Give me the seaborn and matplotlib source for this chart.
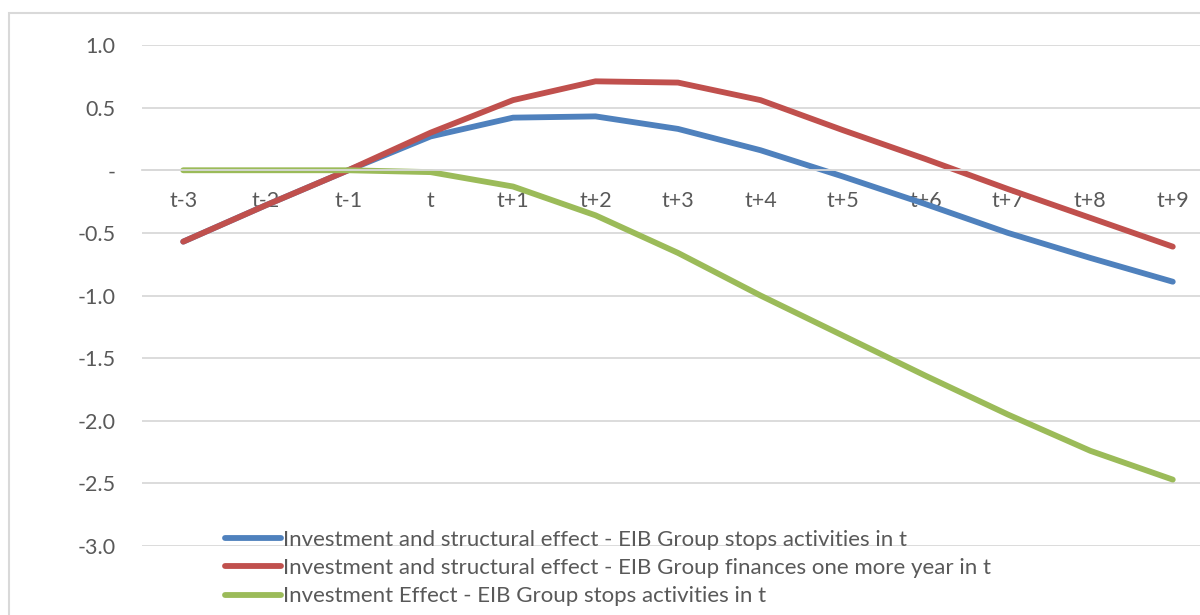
import pandas as pd
import matplotlib.pyplot as plt
import matplotlib.patches as patches
import seaborn as sns

# Periods around the year t
periods = ['t-3', 't-2', 't-1', 't', 't+1', 't+2', 't+3', 't+4', 't+5', 't+6', 't+7', 't+8', 't+9']

# Series values
structural_stop = [-0.57, -0.28, 0.0, 0.27, 0.42, 0.43, 0.33, 0.16, -0.05, -0.27, -0.50, -0.70, -0.89]
structural_more = [-0.57, -0.28, 0.0, 0.30, 0.56, 0.71, 0.70, 0.56, 0.32, 0.09, -0.15, -0.38, -0.61]
investment_stop = [0.0, 0.0, 0.0, -0.015, -0.13, -0.36, -0.66, -1.00, -1.32, -1.64, -1.95, -2.24, -2.47]

series_names = [
    'Investment and structural effect - EIB Group stops activities in t',
    'Investment and structural effect - EIB Group finances one more year in t',
    'Investment Effect - EIB Group stops activities in t',
]
series_colors = ['#4F81BD', '#C0504D', '#9BBB59']

y_ticks = [1.0, 0.5, 0.0, -0.5, -1.0, -1.5, -2.0, -2.5, -3.0]
y_tick_labels = ['1.0', '0.5', '-', '-0.5', '-1.0', '-1.5', '-2.0', '-2.5', '-3.0']

# Long format table for seaborn
frames = []
for name, values in zip(series_names, [structural_stop, structural_more, investment_stop]):
    frames.append(pd.DataFrame({'period': periods, 'value': values, 'series': name}))
data = pd.concat(frames, ignore_index=True)

sns.set_style('white')
plt.rcParams['font.family'] = ['Lato', 'DejaVu Sans']
text_color = '#595959'
grid_color = '#D9D9D9'
line_width = 4.2

fig = plt.figure(figsize=(12, 6.15), dpi=100)
ax = fig.add_axes([142 / 1200, 1 - 546 / 615, (1214 - 142) / 1200, (546 - 45) / 615])

sns.lineplot(data=data, x='period', y='value', hue='series', hue_order=series_names,
             palette=series_colors, linewidth=line_width, sort=False, ax=ax,
             solid_capstyle='round', legend=False)

ax.set_xlim(-0.5, len(periods) - 0.5)
ax.set_ylim(-3.0, 1.0)
ax.set_yticks(y_ticks)
ax.set_yticklabels(y_tick_labels)
ax.set_xticks(range(len(periods)))
ax.set_xticklabels(periods)
ax.set_xlabel('')
ax.set_ylabel('')

ax.yaxis.grid(True, color=grid_color, linewidth=1.3)
ax.set_axisbelow(True)
for side in ['top', 'right', 'left']:
    ax.spines[side].set_visible(False)
ax.spines['bottom'].set_position(('data', 0))
ax.spines['bottom'].set_color(grid_color)
ax.spines['bottom'].set_linewidth(1.3)
ax.tick_params(axis='x', length=0, pad=15, labelsize=15.5, labelcolor=text_color)
ax.tick_params(axis='y', length=0, pad=19, labelsize=15.5, labelcolor=text_color)

# Legend in the lower left of the plot area
handles = [plt.Line2D([], [], color=c, linewidth=line_width, solid_capstyle='round') for c in series_colors]
ax.legend(handles, series_names, loc='upper left', bbox_to_anchor=(225 / 1200, 1 - 530 / 615),
          bbox_transform=fig.transFigure, frameon=False, borderpad=0, borderaxespad=0,
          handlelength=2.5, handletextpad=0.12, labelspacing=0.37, fontsize=16.0,
          labelcolor=text_color)

# Chart frame (cropped at right and bottom)
fig.add_artist(patches.Rectangle((9 / 1200, -0.1), 1.2, 1 - 13 / 615 + 0.1,
                                 transform=fig.transFigure, fill=False,
                                 edgecolor=grid_color, linewidth=1.5))

plt.savefig('out.png', dpi=100)
